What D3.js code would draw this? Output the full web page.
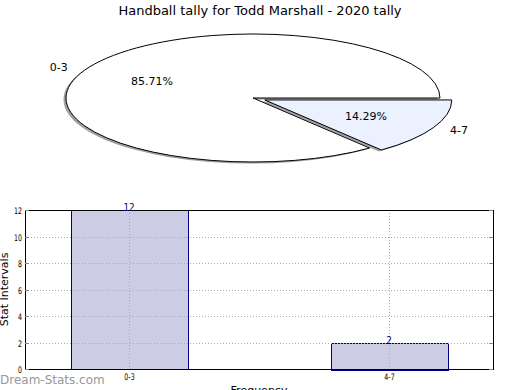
<!DOCTYPE html>
<html>
<head>
<meta charset="utf-8">
<script src="https://cdn.jsdelivr.net/npm/d3@7"></script>
<style>
  body { margin: 0; background: #fff; }
  svg { display: block; font-family: "DejaVu Sans", sans-serif; }
</style>
</head>
<body>
<script>
// data
var title = 'Handball tally for Todd Marshall - 2020 tally';
var categories = ['0-3', '4-7'];
var counts = [12, 2];
var explode = [0, 0.07];
var sliceColors = ['#ffffff', '#ebf1ff'];
var yTicks = [0, 2, 4, 6, 8, 10, 12];

var width = 520, height = 390;
var svg = d3.select(document.body).append('svg')
  .attr('width', width)
  .attr('height', height);

svg.append('text')
  .attr('x', 260).attr('y', 15)
  .attr('text-anchor', 'middle')
  .attr('font-size', 13)
  .text(title);

// pie, squashed into an ellipse
var cx = 253, cy = 98, rx = 187, ry = 64;
var total = d3.sum(counts);
var pie = d3.pie().sort(null)
  .startAngle(Math.PI / 2)
  .endAngle(Math.PI / 2 - 2 * Math.PI);
var arcs = pie(counts);
var arc = d3.arc().innerRadius(0).outerRadius(rx);

function offset(d, i, k) {
  var m = (d.startAngle + d.endAngle) / 2;
  return [Math.sin(m) * rx * k, -Math.cos(m) * ry * k];
}

var pieG = svg.append('g').attr('transform', 'translate(' + cx + ',' + cy + ')');

// shadows first
pieG.selectAll('path.shadow').data(arcs).enter().append('path')
  .attr('class', 'shadow')
  .attr('fill', '#a0a0a0')
  .attr('transform', function(d, i) {
    var o = offset(d, i, explode[i]);
    return 'translate(' + (o[0] - 2.5) + ',' + (o[1] + 1.5) + ') scale(1,' + (ry / rx) + ')';
  })
  .attr('d', arc);

pieG.selectAll('path.slice').data(arcs).enter().append('path')
  .attr('class', 'slice')
  .attr('fill', function(d, i) { return sliceColors[i]; })
  .attr('stroke', '#000')
  .attr('stroke-width', 1)
  .attr('vector-effect', 'non-scaling-stroke')
  .attr('transform', function(d, i) {
    var o = offset(d, i, explode[i]);
    return 'translate(' + o[0] + ',' + o[1] + ') scale(1,' + (ry / rx) + ')';
  })
  .attr('d', arc);

arcs.forEach(function(d, i) {
  var e = offset(d, i, explode[i]);
  var l = offset(d, i, 1.1);
  var p = offset(d, i, 0.6);
  pieG.append('text')
    .attr('x', e[0] + l[0]).attr('y', e[1] + l[1])
    .attr('dy', '0.35em')
    .attr('text-anchor', l[0] < 0 ? 'end' : 'start')
    .attr('font-size', 11)
    .text(categories[i]);
  pieG.append('text')
    .attr('x', e[0] + p[0]).attr('y', e[1] + p[1])
    .attr('dy', '0.35em')
    .attr('text-anchor', 'middle')
    .attr('font-size', 11)
    .text(d3.format('.2f')(counts[i] / total * 100) + '%');
});

// bar chart
var plotL = 25, plotR = 493, plotT = 210, plotB = 369;
var x = d3.scaleLinear().domain([-0.4, 1.4]).range([plotL, plotR]);
var y = d3.scaleLinear().domain([0, 12]).range([plotB, plotT]);
var barW = 0.45;

var bars = svg.append('g');

bars.selectAll('rect.bar').data(counts).enter().append('rect')
  .attr('class', 'bar')
  .attr('x', function(d, i) { return Math.round(x(i - barW / 2)) + 0.5; })
  .attr('y', function(d) { return Math.round(y(d)) + 0.5; })
  .attr('width', function(d, i) { return Math.round(x(i + barW / 2) - x(i - barW / 2)); })
  .attr('height', function(d) { return Math.round(y(0) - y(d)); })
  .attr('fill', '#ccccE4')
  .attr('stroke', '#000080')
  .attr('stroke-width', 1);

// grid
bars.selectAll('line.hgrid').data(yTicks).enter().append('line')
  .attr('x1', plotL).attr('x2', plotR)
  .attr('y1', function(d) { return Math.round(y(d)) + 0.5; })
  .attr('y2', function(d) { return Math.round(y(d)) + 0.5; })
  .attr('stroke', '#aaa').attr('stroke-dasharray', '1,2');
bars.selectAll('line.vgrid').data(categories).enter().append('line')
  .attr('x1', function(d, i) { return Math.round(x(i)) + 0.5; })
  .attr('x2', function(d, i) { return Math.round(x(i)) + 0.5; })
  .attr('y1', plotT).attr('y2', plotB)
  .attr('stroke', '#aaa').attr('stroke-dasharray', '1,2');

// frame
bars.append('rect')
  .attr('x', plotL + 0.5).attr('y', plotT + 0.5)
  .attr('width', plotR - plotL).attr('height', plotB - plotT)
  .attr('fill', 'none').attr('stroke', '#000');

// ticks inward
yTicks.forEach(function(t) {
  var yy = Math.round(y(t)) + 0.5;
  bars.append('line').attr('x1', plotL).attr('x2', plotL + 4).attr('y1', yy).attr('y2', yy).attr('stroke', '#888');
  bars.append('line').attr('x1', plotR - 4).attr('x2', plotR).attr('y1', yy).attr('y2', yy).attr('stroke', '#888');
  bars.append('text')
    .attr('transform', 'translate(' + (plotL - 3) + ',' + yy + ') scale(0.7,1)')
    .attr('dy', '0.35em')
    .attr('text-anchor', 'end')
    .attr('font-size', 9)
    .text(t);
});
categories.forEach(function(c, i) {
  var xx = Math.round(x(i)) + 0.5;
  bars.append('text')
    .attr('transform', 'translate(' + xx + ',' + (plotB + 11) + ') scale(0.7,1)')
    .attr('text-anchor', 'middle')
    .attr('font-size', 9)
    .text(c);
});

// value labels
bars.selectAll('text.val').data(counts).enter().append('text')
  .attr('transform', function(d, i) { return 'translate(' + x(i) + ',' + (y(d) + 1) + ') scale(0.8,1)'; })
  .attr('text-anchor', 'middle')
  .attr('font-size', 11)
  .attr('fill', '#000080')
  .text(function(d) { return d; });

svg.append('text')
  .attr('transform', 'translate(8,' + ((plotT + plotB) / 2) + ') rotate(-90)')
  .attr('text-anchor', 'middle')
  .attr('font-size', 11)
  .text('Stat Intervals');

svg.append('text')
  .attr('x', (plotL + plotR) / 2).attr('y', 394)
  .attr('text-anchor', 'middle')
  .attr('font-size', 11)
  .text('Frequency');

svg.append('text')
  .attr('x', 0).attr('y', 384)
  .attr('font-size', 12)
  .attr('fill', '#999')
  .text('Dream-Stats.com');
</script>
</body>
</html>
